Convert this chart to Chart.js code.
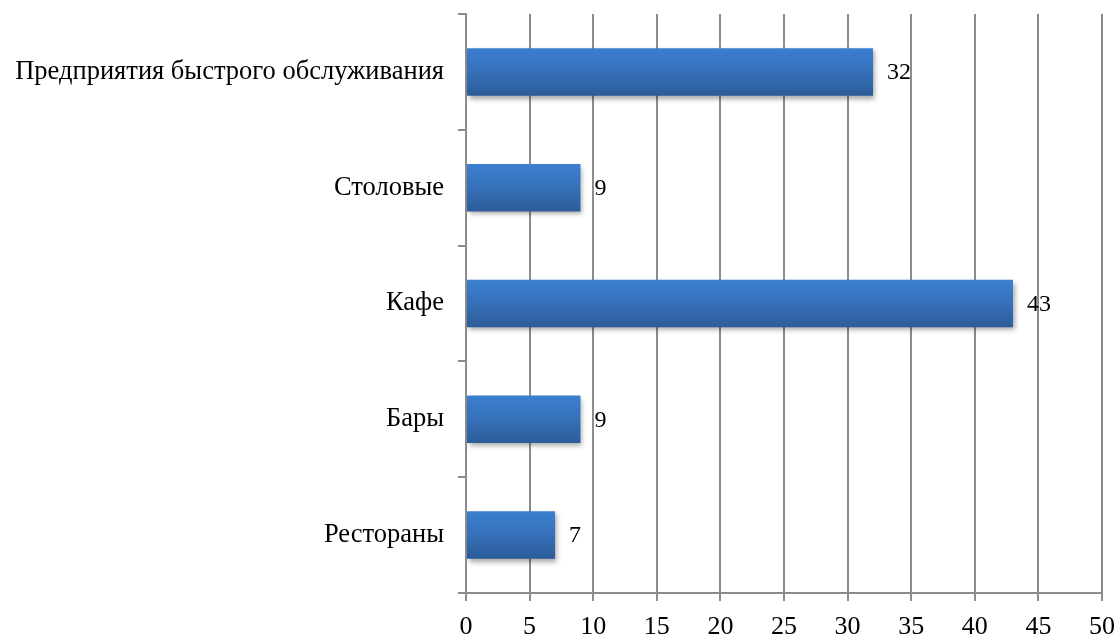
<!DOCTYPE html>
<html>
<head>
<meta charset="utf-8">
<script src="https://cdn.jsdelivr.net/npm/chart.js@4"></script>
<style>
  html, body { margin: 0; padding: 0; background: #fff; }
  #wrap { width: 1119px; height: 635px; }
</style>
</head>
<body>
<div id="wrap"><canvas id="types-chart" width="1119" height="635"></canvas></div>
<script>
// categories, top to bottom
const categories = [
  "Предприятия быстрого обслуживания",
  "Столовые",
  "Кафе",
  "Бары",
  "Рестораны",
];
// number of establishments
const counts = [32, 9, 43, 9, 7];
// x axis ticks
const xTicks = [0, 5, 10, 15, 20, 25, 30, 35, 40, 45, 50];

const serif = "'Liberation Serif', 'Times New Roman', serif";
const axisGray = "#8c8c8c";
const barRatio = 0.41;

// blue gradient, lighter on top of each bar
function barFill(context) {
  const chart = context.chart;
  const y = chart.scales.y;
  if (!y || context.dataIndex === undefined) return "#3670b8";
  const center = y.getPixelForValue(context.dataIndex);
  const half = (y.height / categories.length) * barRatio / 2;
  if (!isFinite(center) || !isFinite(half) || half <= 0) return "#3670b8";
  const g = chart.ctx.createLinearGradient(0, center - half, 0, center + half);
  g.addColorStop(0, "#3b7fd0");
  g.addColorStop(0.5, "#3670b8");
  g.addColorStop(1, "#2c5c9a");
  return g;
}

// drop shadow under the bars
const barShadow = {
  id: "barShadow",
  beforeDatasetsDraw(chart) {
    const ctx = chart.ctx;
    ctx.save();
    ctx.shadowColor = "rgba(0,0,0,0.35)";
    ctx.shadowBlur = 5;
    ctx.shadowOffsetX = 2;
    ctx.shadowOffsetY = 3;
  },
  afterDatasetsDraw(chart) {
    chart.ctx.restore();
  },
};

// value text to the right of each bar
const valueLabels = {
  id: "valueLabels",
  afterDraw(chart) {
    const ctx = chart.ctx;
    const meta = chart.getDatasetMeta(0);
    ctx.save();
    ctx.font = "24px " + serif;
    ctx.fillStyle = "#000";
    ctx.textAlign = "left";
    ctx.textBaseline = "middle";
    meta.data.forEach((bar, i) => {
      ctx.fillText(String(counts[i]), bar.x + 14, bar.y + 1);
    });
    ctx.restore();
  },
};

const typesChart = new Chart(document.getElementById("types-chart"), {
  type: "bar",
  data: {
    labels: categories,
    datasets: [
      {
        data: counts,
        backgroundColor: barFill,
        borderWidth: 0,
        categoryPercentage: 1,
        barPercentage: barRatio,
      },
    ],
  },
  options: {
    indexAxis: "y",
    responsive: false,
    animation: false,
    layout: { padding: { top: 0, right: 17, bottom: 0, left: 0 } },
    plugins: {
      legend: { display: false },
      tooltip: { enabled: false },
    },
    scales: {
      x: {
        min: 0,
        max: 50,
        afterBuildTicks(scale) {
          scale.ticks = xTicks.map((v) => ({ value: v }));
        },
        afterFit(scale) {
          scale.height = 42;
          scale.paddingLeft = 0;
          scale.paddingRight = 0;
        },
        grid: {
          color: axisGray,
          lineWidth: 2,
          drawTicks: true,
          tickLength: 8,
        },
        border: { display: true, color: axisGray, width: 2 },
        ticks: {
          color: "#000",
          padding: 13,
          maxRotation: 0,
          font: { family: serif, size: 26, lineHeight: 1 },
        },
      },
      y: {
        offset: true,
        afterFit(scale) {
          scale.width = 466;
          scale.paddingTop = 14;
          scale.paddingBottom = 0;
        },
        grid: {
          offset: true,
          drawOnChartArea: false,
          drawTicks: true,
          tickLength: 8,
          color: axisGray,
          lineWidth: 2,
        },
        border: { display: true, color: axisGray, width: 2 },
        ticks: {
          color: "#000",
          padding: 14,
          font: { family: serif, size: 26.5, lineHeight: 1.05 },
        },
      },
    },
  },
  plugins: [barShadow, valueLabels],
});
typesChart.update();
</script>
</body>
</html>
